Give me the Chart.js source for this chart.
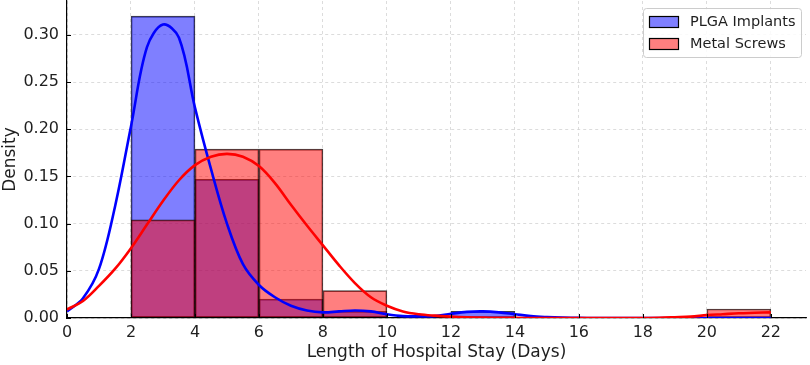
<!DOCTYPE html>
<html lang="en">
<head>
<meta charset="UTF-8">
<title>Length of Hospital Stay</title>
<script src="https://cdn.jsdelivr.net/npm/chart.js"></script>
<style>
  body { margin: 0; background: #fff; }
  .wrap { width: 810px; height: 365px; }
</style>
</head>
<body>
<div class="wrap"><canvas id="stayChart"></canvas></div>
<script>
// histogram bins (2-day wide) and density per bin
const binEdges = [2, 4, 6, 8, 10, 12, 14, 16, 18, 20, 22];
const plgaDensity  = [0.320, 0.147, 0.020, 0.007, 0, 0.007, 0, 0, 0, 0];
const metalDensity = [0.104, 0.179, 0.179, 0.029, 0, 0, 0, 0, 0, 0.0095];

// KDE curves, every half day
const kdeX = [0, 0.5, 1, 1.5, 2, 2.5, 3, 3.5, 4, 4.5, 5, 5.5, 6, 6.5, 7, 7.5, 8, 8.5, 9, 9.5, 10,
  10.5, 11, 11.5, 12, 12.5, 13, 13.5, 14, 14.5, 15, 15.5, 16, 16.5, 17, 17.5, 18, 18.5, 19, 19.5, 20,
  20.5, 21, 21.5, 22];
const plgaKde = [0.007, 0.021, 0.052, 0.118, 0.203, 0.287, 0.311, 0.297, 0.223, 0.158, 0.100, 0.057,
  0.035, 0.022, 0.013, 0.008, 0.006, 0.007, 0.008, 0.007, 0.004, 0.002, 0.0017, 0.002, 0.0045, 0.0065,
  0.007, 0.006, 0.004, 0.002, 0.001, 0.0004, 0.0001, 0, 0, 0, 0, 0, 0, 0, 0, 0, 0, 0, 0];
const metalKde = [0.009, 0.018, 0.034, 0.052, 0.074, 0.099, 0.124, 0.146, 0.162, 0.171, 0.174, 0.171,
  0.161, 0.143, 0.120, 0.098, 0.077, 0.056, 0.037, 0.022, 0.013, 0.007, 0.004, 0.0025, 0.0015, 0.0008,
  0.0004, 0.0002, 0.0001, 0, 0, 0, 0, 0, 0, 0, 0, 0.0002, 0.0008, 0.0015, 0.003, 0.004, 0.005, 0.0055, 0.006];

const xTicks = [0, 2, 4, 6, 8, 10, 12, 14, 16, 18, 20, 22];
const yTicks = [0, 0.05, 0.10, 0.15, 0.20, 0.25, 0.30];

function histPoints(dens) {
  const pts = [];
  dens.forEach((d, i) => {
    if (d > 0) pts.push({ x: (binEdges[i] + binEdges[i + 1]) / 2, y: d });
  });
  return pts;
}
function curvePoints(vals) {
  return kdeX.map((x, i) => ({ x: x, y: vals[i] }));
}

const FONT = 'DejaVu Sans';
const TEXT = '#1f1f1f';

// matplotlib-style ticks pointing into the plot
const inwardTicks = {
  id: 'inwardTicks',
  afterDraw(chart) {
    const { ctx, chartArea: a, scales: { x, y } } = chart;
    ctx.save();
    ctx.strokeStyle = '#000';
    ctx.lineWidth = 1;
    ctx.beginPath();
    x.ticks.forEach(t => {
      const px = Math.round(x.getPixelForValue(t.value)) + 0.5;
      ctx.moveTo(px, a.bottom);
      ctx.lineTo(px, a.bottom - 4);
    });
    y.ticks.forEach(t => {
      const py = Math.round(y.getPixelForValue(t.value)) + 0.5;
      ctx.moveTo(a.left, py);
      ctx.lineTo(a.left + 4, py);
    });
    ctx.stroke();
    ctx.restore();
  }
};

// boxed legend in the upper right corner of the plot
const boxLegend = {
  id: 'boxLegend',
  afterDraw(chart) {
    const { ctx, chartArea: a } = chart;
    const items = chart.data.datasets.filter(d => d.type === 'bar')
      .sort((p, q) => q.order - p.order);
    const w = 158, h = 49;
    const left = a.right - w - 5, top = a.top + 7;
    ctx.save();
    ctx.fillStyle = 'rgba(255,255,255,0.85)';
    ctx.strokeStyle = '#cccccc';
    ctx.lineWidth = 1;
    ctx.beginPath();
    ctx.roundRect(left + 0.5, top + 0.5, w, h, 3);
    ctx.fill();
    ctx.stroke();
    ctx.font = '14.5px "' + FONT + '"';
    ctx.textBaseline = 'middle';
    items.forEach((d, i) => {
      const cy = top + 14 + i * 22;
      ctx.fillStyle = d.backgroundColor;
      ctx.fillRect(left + 6, cy - 6, 30, 11);
      ctx.strokeStyle = '#000';
      ctx.lineWidth = 1.2;
      ctx.strokeRect(left + 6.5, cy - 5.5, 29, 11);
      ctx.fillStyle = TEXT;
      ctx.fillText(d.label, left + 47, cy);
    });
    ctx.restore();
  }
};

new Chart(document.getElementById('stayChart'), {
  type: 'bar',
  data: {
    datasets: [
      {
        type: 'line', label: 'Metal Screws KDE', data: curvePoints(metalKde),
        borderColor: '#ff0000', borderWidth: 2.6, pointRadius: 0,
        tension: 0.35, order: 0
      },
      {
        type: 'line', label: 'PLGA Implants KDE', data: curvePoints(plgaKde),
        borderColor: '#0000ff', borderWidth: 2.6, pointRadius: 0,
        tension: 0.35, order: 1
      },
      {
        type: 'bar', label: 'Metal Screws', data: histPoints(metalDensity),
        backgroundColor: 'rgba(255,0,0,0.5)', borderColor: 'rgba(0,0,0,0.75)',
        borderWidth: 1, borderSkipped: false, order: 2
      },
      {
        type: 'bar', label: 'PLGA Implants', data: histPoints(plgaDensity),
        backgroundColor: 'rgba(0,0,255,0.5)', borderColor: 'rgba(0,0,0,0.75)',
        borderWidth: 1, borderSkipped: false, order: 3
      }
    ]
  },
  options: {
    responsive: true,
    maintainAspectRatio: false,
    animation: false,
    layout: { padding: { top: 1, right: 4, left: 0, bottom: 0 } },
    datasets: { bar: { grouped: false, barPercentage: 1, categoryPercentage: 1 } },
    plugins: { legend: { display: false }, tooltip: { enabled: false } },
    scales: {
      x: {
        type: 'linear', min: 0, max: 23.1, offset: false,
        afterFit: s => { s.height = 47; s.paddingLeft = 0; s.paddingRight = 0; },
        afterBuildTicks: s => { s.ticks = xTicks.map(v => ({ value: v })); },
        grid: { color: '#d4d4d4', lineWidth: 0.8, drawTicks: false, offset: false },
        border: { display: true, color: '#000', width: 1.2, dash: [3, 3] },
        ticks: { padding: 5, color: TEXT, font: { family: FONT, size: 16 } },
        title: {
          display: true, text: 'Length of Hospital Stay (Days)', color: TEXT,
          font: { family: FONT, size: 17 }, padding: { top: 0, bottom: 2 }
        }
      },
      y: {
        min: 0, max: 0.336,
        afterFit: s => { s.width = 67; s.paddingTop = 0; s.paddingBottom = 0; },
        afterBuildTicks: s => { s.ticks = yTicks.map(v => ({ value: v })); },
        grid: { color: '#d4d4d4', lineWidth: 0.8, drawTicks: false },
        border: { display: true, color: '#000', width: 1.2, dash: [3, 3] },
        ticks: {
          padding: 8, color: TEXT, font: { family: FONT, size: 16 },
          callback: v => v.toFixed(2)
        },
        title: {
          display: true, text: 'Density', color: TEXT,
          font: { family: FONT, size: 17 }, padding: { top: 0, bottom: 0 }
        }
      }
    }
  },
  plugins: [inwardTicks, boxLegend]
});
</script>
</body>
</html>
